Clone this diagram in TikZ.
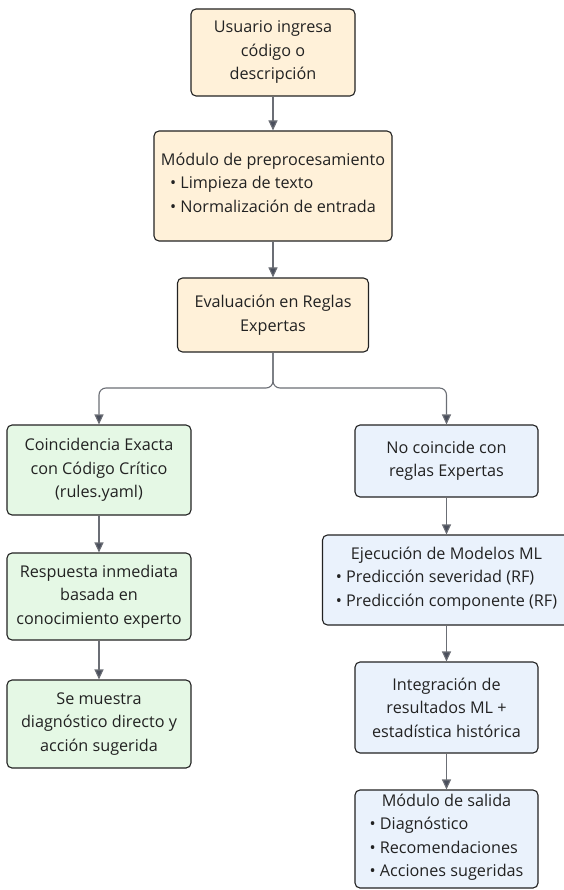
\documentclass[tikz,border=0pt]{standalone}
\usepackage{fontspec}
\setmainfont{Open Sans}
\usepackage{xcolor}
\usetikzlibrary{arrows.meta, positioning, calc}
\definecolor{ink}{HTML}{222222}
\definecolor{wire}{HTML}{6B6E75}
\definecolor{tip}{HTML}{4A4F5C}
\definecolor{softorange}{HTML}{FFF1D9}
\definecolor{softgreen}{HTML}{E5F8E5}
\definecolor{softblue}{HTML}{EAF2FC}
\tikzset{
  box/.style={
    rectangle, rounded corners=5pt,
    draw=ink, fill=white, line width=1.1pt,
    minimum width=183pt, inner sep=3pt,
    align=center, text=ink,
    font=\fontsize{16.2pt}{23.5pt}\selectfont
  },
  orangebox/.style={box, fill=softorange},
  greenbox/.style={box, fill=softgreen},
  bluebox/.style={box, fill=softblue},
  arrow/.style={-{Triangle[length=10pt,width=9pt,fill=tip]}, line width=1.1pt, draw=wire},
}
\newcommand{\itemlist}[2]{#1\\\begin{tabular}[t]{@{}l@{}}#2\end{tabular}}

\begin{document}
\begin{tikzpicture}[x=1pt, y=-1pt]
  \useasboundingbox (0,0) rectangle (563,890);

  % main trunk
  \node[orangebox, minimum width=164pt, minimum height=87pt] (user) at (273,52.5) {Usuario ingresa\\código o\\descripción};
  \node[orangebox, minimum width=238pt, minimum height=110pt] (prep) at (273,186)
    {\itemlist{Módulo de preprocesamiento}{• Limpieza de texto\\• Normalización de entrada}};
  \node[orangebox, minimum width=191pt, minimum height=74pt] (rules) at (273,315) {Evaluación en Reglas\\Expertas};
  \coordinate (split) at (273,388);

  % left branch: expert rules
  \node[greenbox, minimum width=184pt, minimum height=90pt] (exact) at (99,470) {Coincidencia Exacta\\con Código Crítico\\(rules.yaml)};
  \node[greenbox, minimum width=184pt, minimum height=87pt] (quick) at (99,596.5) {Respuesta inmediata\\basada en\\conocimiento experto};
  \node[greenbox, minimum width=184pt, minimum height=88pt] (show) at (99,724) {Se muestra\\diagnóstico directo y\\acción sugerida};

  % right branch: ML models
  \node[bluebox, minimum height=72pt] (nomatch) at (446.5,461) {No coincide con\\reglas Expertas};
  \node[bluebox, minimum width=248pt, minimum height=90pt] (models) at (446.5,580)
    {\itemlist{Ejecución de Modelos ML}{• Predicción severidad (RF)\\• Predicción componente (RF)}};
  \node[bluebox, minimum height=91pt] (merge) at (446.5,707.5) {Integración de\\resultados ML +\\estadística histórica};
  \node[bluebox, minimum height=98pt] (out) at (446.5,839)
    {\itemlist{Módulo de salida}{• Diagnóstico\\• Recomendaciones\\• Acciones sugeridas}};

  \draw[arrow] (user) -- (prep);
  \draw[arrow] (prep) -- (rules);
  \draw[arrow, rounded corners=7pt] (rules.south) -- (split) -| (exact.north);
  \draw[arrow, rounded corners=7pt] (rules.south) -- (split) -| (nomatch.north);
  \draw[arrow] (exact) -- (quick);
  \draw[arrow] (quick) -- (show);
  \draw[arrow] (nomatch) -- (models);
  \draw[arrow] (models) -- (merge);
  \draw[arrow] (merge) -- (out);
\end{tikzpicture}
\end{document}
